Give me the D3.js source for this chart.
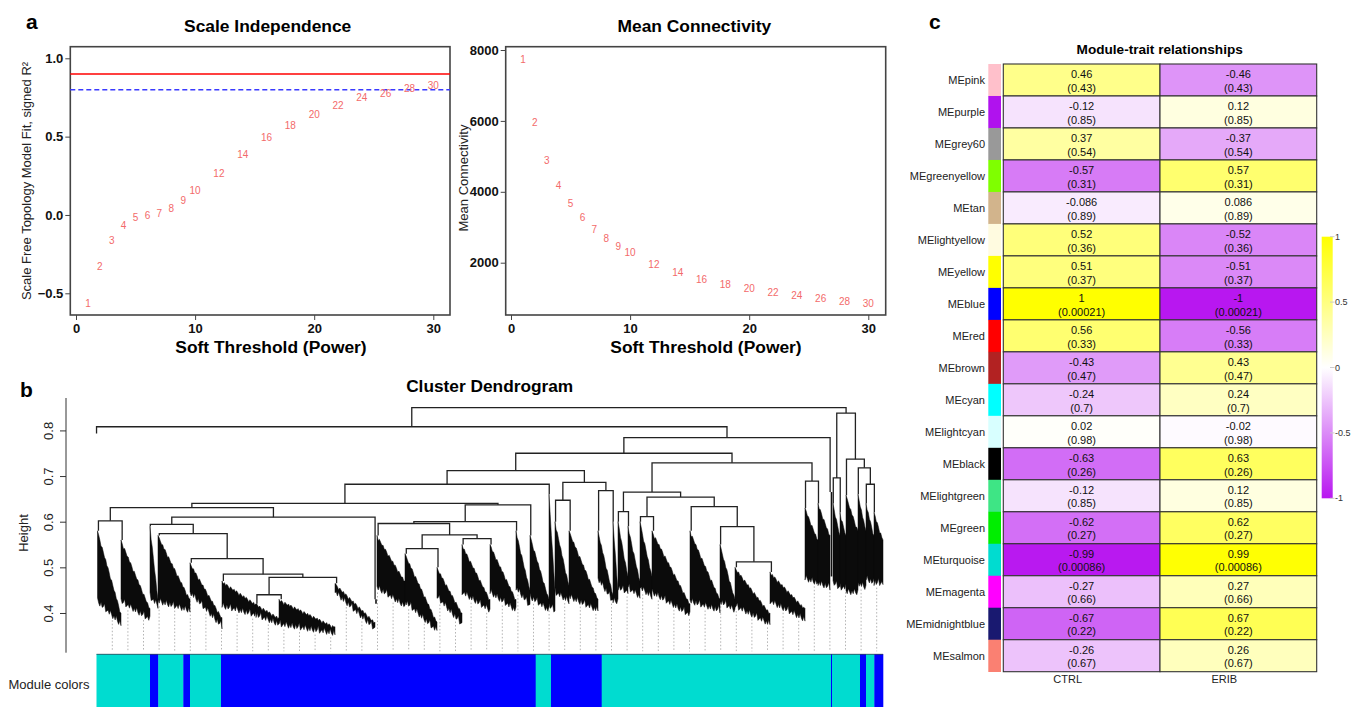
<!DOCTYPE html>
<html>
<head>
<meta charset="utf-8">
<script src="https://cdn.jsdelivr.net/npm/d3@7/dist/d3.min.js"></script>
<style>
  body { margin: 0; background: #fff; }
  svg text { font-family: "Liberation Sans", Arial, Helvetica, sans-serif; }
</style>
</head>
<body>
<svg id="figure" width="1362" height="707"></svg>
<script>
// ---------- panel a : soft threshold ----------
const powers = [1, 2, 3, 4, 5, 6, 7, 8, 9, 10, 12, 14, 16, 18, 20, 22, 24, 26, 28, 30];
const scaleFreeFit = [-0.564, -0.33, -0.164, -0.07, -0.019, -0.006, 0.011, 0.043, 0.091, 0.155,
  0.266, 0.389, 0.496, 0.57, 0.64, 0.7, 0.747, 0.777, 0.806, 0.828];
const meanConnectivity = [7746, 5941, 4889, 4183, 3664, 3261, 2942, 2677, 2463, 2274,
  1963, 1729, 1540, 1399, 1266, 1154, 1069, 985, 919, 855];
const fitCutoffs = [0.9, 0.8];

// ---------- panel b : gene dendrogram ----------
// leaf groups left to right (width in genes, heights of the dense leaf mass)
const bundleWidth = [1, 23.5, 29, 8, 32, 32, 34, 23, 56, 40, 2, 28, 32, 25, 28, 26, 14, 19, 6, 14,
  29, 15, 5, 10, 12, 12, 38, 30, 15, 35, 35, 13, 12, 3, 7, 6, 12, 8, 8, 9];
const bundleTop = [0.793, 0.58, 0.56, 0.59, 0.57, 0.51, 0.47, 0.42, 0.43, 0.465, 0.43, 0.57, 0.53, 0.5, 0.55, 0.55, 0.58, 0.57, 0.66, 0.6,
  0.58, 0.58, 0.6, 0.6, 0.59, 0.6, 0.58, 0.58, 0.55, 0.5, 0.49, 0.63, 0.64, 0.665, 0.64, 0.62, 0.658, 0.66, 0.64, 0.62];
const bundleTopR = [0.793, 0.4, 0.41, 0.43, 0.43, 0.39, 0.42, 0.39, 0.37, 0.38, 0.43, 0.47, 0.38, 0.4, 0.43, 0.43, 0.45, 0.43, 0.45, 0.46,
  0.43, 0.44, 0.45, 0.48, 0.47, 0.48, 0.42, 0.43, 0.43, 0.4, 0.41, 0.56, 0.57, 0.6, 0.57, 0.57, 0.58, 0.58, 0.57, 0.56];
const bundleLowL = [0.793, 0.42, 0.42, 0.43, 0.42, 0.44, 0.41, 0.39, 0.37, 0.44, 0.42, 0.45, 0.42, 0.43, 0.44, 0.44, 0.45, 0.43, 0.41, 0.44,
  0.43, 0.47, 0.42, 0.45, 0.45, 0.45, 0.44, 0.42, 0.42, 0.41, 0.42, 0.47, 0.46, 0.5, 0.46, 0.45, 0.44, 0.46, 0.47, 0.46];
const bundleLowR = [0.793, 0.37, 0.38, 0.41, 0.4, 0.365, 0.39, 0.37, 0.35, 0.36, 0.42, 0.41, 0.355, 0.37, 0.4, 0.4, 0.41, 0.4, 0.4, 0.42,
  0.4, 0.42, 0.42, 0.44, 0.43, 0.43, 0.39, 0.4, 0.4, 0.37, 0.38, 0.46, 0.45, 0.48, 0.45, 0.45, 0.44, 0.45, 0.46, 0.46];
// merges: [height, left, right]; numbers are leaf groups
const dendroTree =
  [0.85,
    [0.808, 0,
      [0.784,
        [0.75,
          [0.712,
            [0.682,
              [0.64,
                [0.631,
                  [0.602, 1, 2],
                  [0.61,
                    [0.594, 3, [0.574, 4, [0.519, 5, [0.485, 6, [0.478, [0.44, 7, 8], 9]]]]],
                    10]],
                [0.637,
                  [0.6,
                    [0.596, 11, [0.571, [0.541, 12, 13], [0.563, 14, 15]]],
                    16],
                  17]],
              18],
            [0.686, [0.647, 19, 20], [0.668, 21, 22]]],
          [0.729,
            [0.665,
              [0.622, 23, 24],
              [0.654, [0.611, 25, 26], [0.633, 27, [0.589, 28, [0.512, 29, 30]]]]],
            [0.689, 31, 32]]],
        33]],
    [0.838,
      [0.696, 34, 35],
      [0.737, 36, [0.718, 37, [0.682, 38, 39]]]]];
const heightTicks = [0.4, 0.5, 0.6, 0.7, 0.8];
const moduleRunColor = ["turquoise", "blue", "turquoise", "blue", "turquoise", "blue", "turquoise", "blue",
  "turquoise", "blue", "turquoise", "blue", "turquoise", "blue"];
const moduleRunSize = [53.5, 8.3, 25, 6.7, 31, 314.7, 15.3, 50.7, 229.3, 1, 28, 6, 8.3, 8.7];

// ---------- panel c : module-trait relationships ----------
const modules = ["MEpink", "MEpurple", "MEgrey60", "MEgreenyellow", "MEtan", "MElightyellow", "MEyellow",
  "MEblue", "MEred", "MEbrown", "MEcyan", "MElightcyan", "MEblack", "MElightgreen", "MEgreen",
  "MEturquoise", "MEmagenta", "MEmidnightblue", "MEsalmon"];
const moduleColors = ["#FFC0CB", "#B012EE", "#999999", "#7FFF00", "#D2B48C", "#FFFBE0", "#FFFF00",
  "#0000FF", "#FF0000", "#B22222", "#00FFFF", "#D8FFFF", "#000000", "#3EE585", "#00EE00",
  "#00DCD0", "#FF00FF", "#191970", "#FA8072"];
const traits = ["CTRL", "ERIB"];
const corCTRL = [0.46, -0.12, 0.37, -0.57, -0.086, 0.52, 0.51, 1, 0.56, -0.43, -0.24, 0.02, -0.63, -0.12, -0.62, -0.99, -0.27, -0.67, -0.26];
const corERIB = [-0.46, 0.12, -0.37, 0.57, 0.086, -0.52, -0.51, -1, -0.56, 0.43, 0.24, -0.02, 0.63, 0.12, 0.62, 0.99, 0.27, 0.67, 0.26];
const pValues = [0.43, 0.85, 0.54, 0.31, 0.89, 0.36, 0.37, 0.00021, 0.33, 0.47, 0.7, 0.98, 0.26, 0.85, 0.27, 0.00086, 0.66, 0.22, 0.67];
const legendTicks = [1, 0.5, 0, -0.5, -1];

const svg = d3.select("#figure");

// panel letters
svg.selectAll("text.panel")
  .data([["a", 26, 28.5], ["b", 20, 396.5], ["c", 929, 28.5]])
  .join("text")
  .attr("x", d => d[1]).attr("y", d => d[2])
  .attr("font-size", 21).attr("font-weight", "bold")
  .text(d => d[0]);

// ---------- panel a helper ----------
function powerPlot(cfg) {
  const g = svg.append("g");
  const x = d3.scaleLinear().domain([0, 30]).range(cfg.xRange);
  const y = d3.scaleLinear().domain(cfg.yDomain).range(cfg.yRange);
  const [bx, by, bw, bh] = cfg.box;

  g.append("rect")
    .attr("x", bx).attr("y", by).attr("width", bw).attr("height", bh)
    .attr("fill", "none").attr("stroke", "#444").attr("stroke-width", 1.6);

  const xAxis = g.append("g")
    .attr("transform", `translate(0,${by + bh})`)
    .call(d3.axisBottom(x).tickValues([0, 10, 20, 30]).tickSize(5).tickPadding(4));
  const yAxis = g.append("g")
    .attr("transform", `translate(${bx},0)`)
    .call(d3.axisLeft(y).tickValues(cfg.yTicks).tickFormat(cfg.yFormat).tickSize(5).tickPadding(2));
  for (const ax of [xAxis, yAxis]) {
    ax.select(".domain").remove();
    ax.selectAll("line").attr("stroke", "#444");
    ax.selectAll("text").attr("font-size", 13).attr("font-weight", "bold").attr("fill", "#111")
      .style("font-family", "'Liberation Sans', Arial, sans-serif");
  }

  if (cfg.cutoffs) {
    g.append("line")
      .attr("x1", bx).attr("x2", bx + bw)
      .attr("y1", y(cfg.cutoffs[0])).attr("y2", y(cfg.cutoffs[0]))
      .attr("stroke", "#ff0000").attr("stroke-width", 1.4);
    g.append("line")
      .attr("x1", bx).attr("x2", bx + bw)
      .attr("y1", y(cfg.cutoffs[1])).attr("y2", y(cfg.cutoffs[1]))
      .attr("stroke", "#3a3aff").attr("stroke-width", 1.5).attr("stroke-dasharray", "5,3");
  }

  g.selectAll("text.pt")
    .data(powers)
    .join("text")
    .attr("class", "pt")
    .attr("x", d => x(d))
    .attr("y", (d, i) => y(cfg.values[i]))
    .attr("dy", "0.35em")
    .attr("text-anchor", "middle")
    .attr("font-size", 10)
    .attr("fill", "#f36a6a")
    .text(d => d);

  g.append("text")
    .attr("x", cfg.titleX).attr("y", 31.5)
    .attr("text-anchor", "middle").attr("font-size", 17.4).attr("font-weight", "bold")
    .text(cfg.title);
  g.append("text")
    .attr("x", cfg.xlabX).attr("y", 353)
    .attr("text-anchor", "middle").attr("font-size", 17.4).attr("font-weight", "bold")
    .text("Soft Threshold (Power)");
  g.append("text")
    .attr("transform", `translate(${cfg.ylabX},${cfg.ylabY}) rotate(-90)`)
    .attr("text-anchor", "middle").attr("font-size", 13).attr("fill", "#222")
    .text(cfg.ylab);
}

powerPlot({
  box: [70.3, 46.7, 379.7, 268.3],
  xRange: [76, 433.3],
  yDomain: [-0.5, 1.0], yRange: [293.3, 58.3],
  yTicks: [-0.5, 0, 0.5, 1.0], yFormat: d3.format(".1f"),
  values: scaleFreeFit,
  cutoffs: fitCutoffs,
  title: "Scale Independence", titleX: 267.7,
  xlabX: 271,
  ylab: "Scale Free Topology Model Fit, signed R\u00B2", ylabX: 31, ylabY: 181
});

powerPlot({
  box: [505.7, 46.7, 380, 268.3],
  xRange: [511, 868.3],
  yDomain: [2000, 8000], yRange: [262.7, 50],
  yTicks: [2000, 4000, 6000, 8000], yFormat: d3.format("d"),
  values: meanConnectivity,
  title: "Mean Connectivity", titleX: 694.3,
  xlabX: 706,
  ylab: "Mean Connectivity", ylabX: 467.5, ylabY: 178
});

// ---------- panel b ----------
const dend = svg.append("g");
const bundleStart = d3.cumsum([0, ...bundleWidth]);
const totalGenes = d3.sum(bundleWidth);
const xd = d3.scaleLinear().domain([0, totalGenes]).range([96.5, 883]);
const yd = d3.scaleLinear().domain([0.313, 0.871]).range([652.7, 398]);

dend.append("text")
  .attr("x", 489.7).attr("y", 391.5)
  .attr("text-anchor", "middle").attr("font-size", 17.3).attr("font-weight", "bold")
  .text("Cluster Dendrogram");

// y axis
const hAxis = dend.append("g")
  .attr("transform", "translate(66,0)")
  .call(d3.axisLeft(yd).tickValues(heightTicks).tickFormat(d3.format(".1f")).tickSize(6));
hAxis.select(".domain").attr("d", `M0,${yd(0.871)}V${yd(0.313)}`).attr("stroke", "#333");
hAxis.selectAll("line").attr("stroke", "#333");
hAxis.selectAll("text")
  .attr("x", 0).attr("y", -12.7).attr("dy", 0)
  .attr("transform", "rotate(-90)")
  .attr("text-anchor", "middle")
  .attr("font-size", 13).attr("fill", "#222")
  .style("font-family", "'Liberation Sans', Arial, sans-serif");
dend.append("text")
  .attr("transform", "translate(28,533) rotate(-90)")
  .attr("text-anchor", "middle").attr("font-size", 13).attr("fill", "#222")
  .text("Height");

// dotted leaf guides down to the colour bar
const lowAt = (i, u) => bundleLowL[i] + (bundleLowR[i] - bundleLowL[i]) * (u - bundleStart[i]) / bundleWidth[i];
const guideGenes = d3.range(15.8, totalGenes, 15.6);
dend.selectAll("line.guide")
  .data(guideGenes)
  .join("line")
  .attr("x1", d => xd(d)).attr("x2", d => xd(d))
  .attr("y1", d => {
    const i = d3.bisectRight(bundleStart, d) - 1;
    return yd(lowAt(i, d)) + 2;
  })
  .attr("y2", yd(0.316))
  .attr("stroke", "#aaa").attr("stroke-width", 0.9).attr("stroke-dasharray", "1.5,2");

// merge lines
const merges = [];
function place(node) {
  if (!Array.isArray(node)) {
    return { x: bundleStart[node] + bundleWidth[node] * 0.04, h: bundleTop[node] };
  }
  const [h, left, right] = node;
  const a = place(left), b = place(right);
  merges.push({ h, a, b });
  return { x: (a.x + b.x) / 2, h };
}
place(dendroTree);

dend.selectAll("path.merge")
  .data(merges)
  .join("path")
  .attr("d", m => `M${xd(m.a.x)},${yd(m.a.h)}V${yd(m.h)}H${xd(m.b.x)}V${yd(m.b.h)}`)
  .attr("fill", "none").attr("stroke", "#222").attr("stroke-width", 1.3);

// dense leaf masses, drawn with a ragged edge where single genes hang down
const hangPattern = [0, 4, 1, 6, 2, 0, 5, 1, 3, 7, 0, 2, 4, 1, 6, 3];
const crownPattern = [0, 2, 0, 1, 3, 0, 1, 2];
function bundlePath(i) {
  const x0 = xd(bundleStart[i]), x1 = xd(bundleStart[i] + bundleWidth[i]);
  const topY = t => yd(bundleTop[i] + (bundleTopR[i] - bundleTop[i]) * t);
  const lowY = t => yd(bundleLowL[i] + (bundleLowR[i] - bundleLowL[i]) * t);
  const n = Math.max(2, Math.round((x1 - x0) / 1.2));
  const upper = d3.range(n + 1).map(k => [x0 + (x1 - x0) * k / n,
    topY(k / n) + (k > 0 && k < n ? crownPattern[(k + i) % crownPattern.length] : 0)]);
  const lower = d3.range(n, -1, -1).map(k => {
    const jag = hangPattern[(k + 3 * i) % hangPattern.length];
    return [x0 + (x1 - x0) * k / n, Math.max(lowY(k / n) - jag, topY(k / n) + 1)];
  });
  return d3.line()([...upper, ...lower]) + "Z";
}
const wideBundles = d3.range(bundleWidth.length).filter(i => bundleWidth[i] > 3);
const thinBundles = d3.range(bundleWidth.length).filter(i => bundleWidth[i] <= 3 && bundleTop[i] !== bundleLowR[i]);
dend.selectAll("path.bundle")
  .data(wideBundles)
  .join("path")
  .attr("d", bundlePath)
  .attr("fill", "#0b0b0b").attr("stroke", "#0b0b0b").attr("stroke-width", 0.5);
dend.selectAll("line.thin")
  .data(thinBundles)
  .join("line")
  .attr("x1", i => xd(bundleStart[i] + bundleWidth[i] * 0.5)).attr("x2", i => xd(bundleStart[i] + bundleWidth[i] * 0.5))
  .attr("y1", i => yd(bundleTop[i])).attr("y2", i => yd(bundleLowR[i]))
  .attr("stroke", "#111").attr("stroke-width", 1.6);

// module colour bar
const moduleHex = { turquoise: "#00DCD0", blue: "#0000FF" };
const runStart = d3.cumsum([0, ...moduleRunSize]);
dend.selectAll("rect.run")
  .data(moduleRunSize)
  .join("rect")
  .attr("x", (d, i) => xd(runStart[i]))
  .attr("width", (d, i) => xd(runStart[i] + d) - xd(runStart[i]) + 0.3)
  .attr("y", 654).attr("height", 53)
  .attr("fill", (d, i) => moduleHex[moduleRunColor[i]]);
dend.append("line")
  .attr("x1", xd(0)).attr("x2", xd(totalGenes)).attr("y1", 654.3).attr("y2", 654.3)
  .attr("stroke", "#345").attr("stroke-width", 0.8);
dend.append("text")
  .attr("x", 8.5).attr("y", 689)
  .attr("font-size", 13).attr("fill", "#222")
  .text("Module colors");

// ---------- panel c ----------
const hm = svg.append("g");
const colX = d3.scaleBand().domain(traits).range([1003.3, 1316.7]);
const rowY = d3.scaleBand().domain(modules).range([64, 671.7]);
const corColor = d3.scaleLinear().domain([-1, 0, 1]).range(["#B817F0", "#FFFFFF", "#FFFF00"]);

hm.append("text")
  .attr("x", 1159.7).attr("y", 53.7)
  .attr("text-anchor", "middle").attr("font-size", 13.6).attr("font-weight", "bold")
  .text("Module-trait relationships");

const cells = [];
modules.forEach((m, i) => {
  cells.push({ m, t: "CTRL", r: corCTRL[i], p: pValues[i] });
  cells.push({ m, t: "ERIB", r: corERIB[i], p: pValues[i] });
});

hm.selectAll("rect.cell")
  .data(cells)
  .join("rect")
  .attr("x", d => colX(d.t)).attr("y", d => rowY(d.m))
  .attr("width", colX.bandwidth()).attr("height", rowY.bandwidth())
  .attr("fill", d => corColor(d.r))
  .attr("stroke", "#333").attr("stroke-width", 1.1);

hm.selectAll("text.r")
  .data(cells)
  .join("text")
  .attr("x", d => colX(d.t) + colX.bandwidth() / 2)
  .attr("y", d => rowY(d.m) + 14.3)
  .attr("text-anchor", "middle").attr("font-size", 11).attr("fill", "#111")
  .text(d => String(d.r));
hm.selectAll("text.p")
  .data(cells)
  .join("text")
  .attr("x", d => colX(d.t) + colX.bandwidth() / 2)
  .attr("y", d => rowY(d.m) + 27.7)
  .attr("text-anchor", "middle").attr("font-size", 11).attr("fill", "#111")
  .text(d => `(${d.p})`);

hm.selectAll("rect.strip")
  .data(modules)
  .join("rect")
  .attr("x", 988.3).attr("width", 12.7)
  .attr("y", d => rowY(d)).attr("height", rowY.bandwidth() + 0.3)
  .attr("fill", (d, i) => moduleColors[i]);

hm.selectAll("text.rowlab")
  .data(modules)
  .join("text")
  .attr("x", 985).attr("y", d => rowY(d) + rowY.bandwidth() / 2)
  .attr("dy", "0.35em")
  .attr("text-anchor", "end").attr("font-size", 11).attr("fill", "#222")
  .text(d => d);

hm.selectAll("text.collab")
  .data(traits)
  .join("text")
  .attr("x", d => colX(d) + colX.bandwidth() / 2 - 14)
  .attr("y", 683.3)
  .attr("text-anchor", "middle").attr("font-size", 11).attr("fill", "#222")
  .text(d => d);

// colour legend
const ly = d3.scaleLinear().domain([-1, 1]).range([498.3, 236.7]);
const grad = svg.append("defs").append("linearGradient")
  .attr("id", "corGrad").attr("x1", 0).attr("x2", 0).attr("y1", 1).attr("y2", 0);
grad.selectAll("stop")
  .data([-1, 0, 1])
  .join("stop")
  .attr("offset", d => (d + 1) / 2)
  .attr("stop-color", d => corColor(d));
hm.append("rect")
  .attr("x", 1321.7).attr("y", ly(1)).attr("width", 11).attr("height", ly(-1) - ly(1))
  .attr("fill", "url(#corGrad)");
hm.selectAll("line.lt")
  .data(legendTicks)
  .join("line")
  .attr("x1", 1330).attr("x2", 1334.5)
  .attr("y1", d => ly(d)).attr("y2", d => ly(d))
  .attr("stroke", "#ccc").attr("stroke-width", 1);
hm.selectAll("text.lt")
  .data(legendTicks)
  .join("text")
  .attr("x", 1335).attr("y", d => ly(d))
  .attr("dy", "0.35em").attr("font-size", 9).attr("fill", "#333")
  .text(d => String(d));
</script>
</body>
</html>
